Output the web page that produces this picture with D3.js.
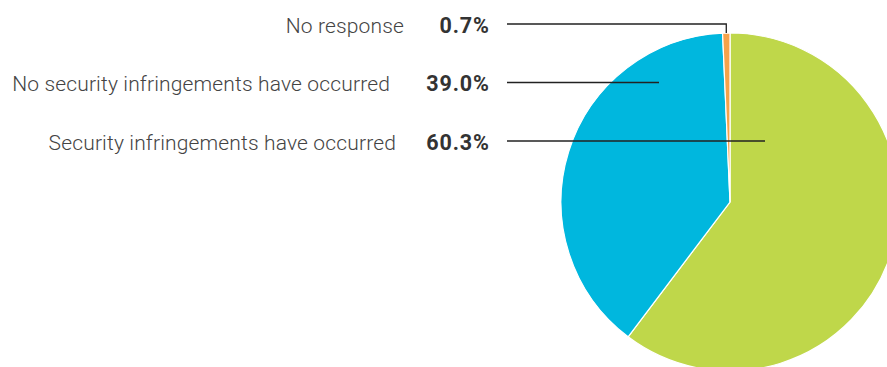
<!DOCTYPE html>
<html>
<head>
<meta charset="utf-8">
<script src="https://cdn.jsdelivr.net/npm/d3@7"></script>
<style>
  html, body { margin: 0; padding: 0; background: #fff; }
  #chart { width: 887px; height: 367px; overflow: hidden; }
</style>
</head>
<body>
<div id="chart"></div>
<script>

// data
var categories = ["Security infringements have occurred", "No security infringements have occurred", "No response"];
var values = [60.3, 39.0, 0.7];
var colors = ["#bfd74a", "#00b7de", "#f5a24a"];

// row order for the labels (top to bottom)
var labelOrder = ["No response", "No security infringements have occurred", "Security infringements have occurred"];

function pieChart(value) {

    // reset svg
    d3.select(value.id).html("");

    var svg = d3.select(value.id)
        .append("svg")
        .attr("width", value.width)
        .attr("height", value.height);

    var pie = d3.pie()
        .sort(null)
        .value(function (d) { return d.value; });

    var arc = d3.arc()
        .innerRadius(0)
        .outerRadius(value.radius);

    var data = categories.map(function (c, i) {
        return { name: c, value: values[i], color: colors[i] };
    });
    var arcs = pie(data);

    var g = svg.append("g")
        .attr("transform", "translate(" + value.cx + "," + value.cy + ")");

    g.selectAll("path")
        .data(arcs)
        .enter()
        .append("path")
        .attr("d", arc)
        .attr("fill", function (d) { return d.data.color; })
        .attr("stroke", "#fff")
        .attr("stroke-width", 1.2);

    // label rows
    var y = d3.scalePoint()
        .domain(labelOrder)
        .range([value.rows[0], value.rows[1]]);

    var rows = svg.selectAll(".row")
        .data(labelOrder)
        .enter()
        .append("g")
        .attr("class", "row");

    // letter-spacing leaves a gap after the last glyph, so push right by it
    rows.append("text")
        .attr("x", value.valueRight + 0.9)
        .attr("y", function (d) { return y(d); })
        .attr("dy", "0.36em")
        .style("font", "700 21.5px Roboto")
        .style("letter-spacing", "0.9px")
        .style("fill", "#333")
        .style("text-anchor", "end")
        .text(function (d) { return values[categories.indexOf(d)].toFixed(1) + "%"; });

    rows.append("text")
        .attr("x", function (d) { return value.labelRight[labelOrder.indexOf(d)]; })
        .attr("y", function (d) { return y(d); })
        .attr("dy", "0.36em")
        .style("font", "300 21px Roboto")
        .style("letter-spacing", "0.15px")
        .style("fill", "#444")
        .style("text-anchor", "end")
        .text(function (d) { return d; });

    // leader lines
    rows.append("path")
        .attr("fill", "none")
        .attr("stroke", "#222")
        .attr("stroke-width", 1.3)
        .attr("d", function (d) {
            var a = arcs[categories.indexOf(d)];
            var ly = y(d) - 1;
            var t = value.leader[d];
            if (t.edge) {
                var mid = (a.startAngle + a.endAngle) / 2;
                var ex = value.cx + value.radius * Math.sin(mid);
                var ey = value.cy - value.radius * Math.cos(mid);
                return "M" + value.lineStart + "," + ly + "H" + ex + "V" + ey;
            }
            return "M" + value.lineStart + "," + ly + "H" + (value.cx + t.dx);
        });
}

pieChart({
    id: "#chart",
    width: 887,
    height: 367,
    cx: 730,
    cy: 202,
    radius: 169,
    rows: [25, 142],
    valueRight: 489,
    labelRight: [404, 390, 396],
    lineStart: 507,
    leader: {
        "No response": { edge: true },
        "No security infringements have occurred": { dx: -71 },
        "Security infringements have occurred": { dx: 35 }
    }
});
</script>
</body>
</html>
